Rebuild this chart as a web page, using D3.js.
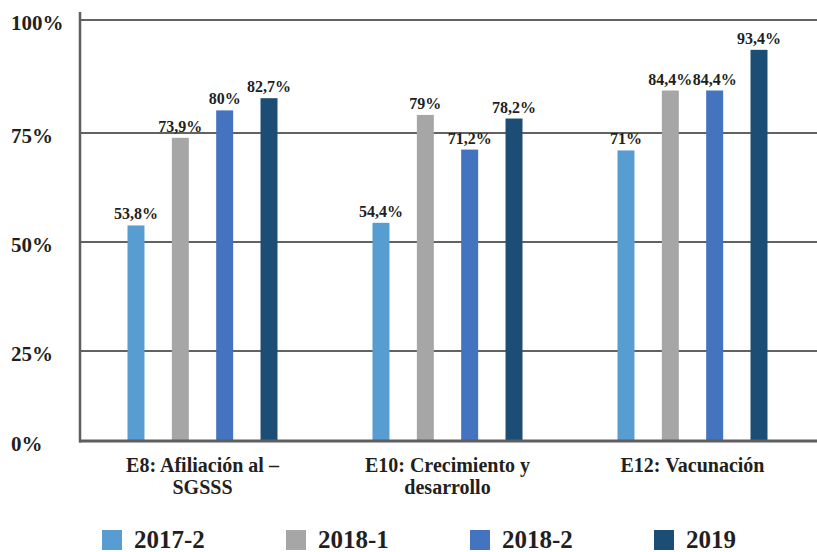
<!DOCTYPE html>
<html>
<head>
<meta charset="utf-8">
<script src="https://cdn.jsdelivr.net/npm/d3@7"></script>
<style>
    body { margin: 0; background: #fff; }
</style>
</head>
<body>
<svg class="chart"></svg>
<script>
// chart data
var categories = ["E8: Afiliación al –\nSGSSS", "E10: Crecimiento y\ndesarrollo", "E12: Vacunación"];
var series = ["2017-2", "2018-1", "2018-2", "2019"];
var values2017_2 = [53.8, 54.4, 71];
var values2018_1 = [73.9, 79, 84.4];
var values2018_2 = [80, 71.2, 84.4];
var values2019 = [82.7, 78.2, 93.4];
var tickValues = [0, 25, 50, 75, 100];
var tickLabels = ["0%", "25%", "50%", "75%", "100%"];
var colors = ["#579dd1", "#a6a6a6", "#4473c0", "#1c4e75"];

var width = 817,
    height = 552,
    axisX = 80,
    rightX = 817,
    allValues = [values2017_2, values2018_1, values2018_2, values2019],
    data = [],
    chart,
    x0,
    x1,
    y;

// the printed grid is not evenly spaced, so the scale follows its lines
y = d3.scaleLinear()
    .domain(tickValues)
    .range([441, 351, 242, 133, 20]);

x0 = d3.scaleBand()
    .domain(categories)
    .range([axisX, 815])
    .padding(0);

x1 = d3.scaleBand()
    .domain(series)
    .range([-75, 75])
    .paddingInner(0.617)
    .paddingOuter(0);

for (var s = 0; s < series.length; s++) {
    for (var c = 0; c < categories.length; c++) {
        data.push({
            cat   : categories[c],
            ser   : series[s],
            value : allValues[s][c],
            color : colors[s]
        });
    }
}

function serif(sel, size) {
    sel.attr("font-family", "Liberation Serif")
        .attr("font-weight", "bold")
        .style("font-size", size + "px")
        .attr("fill", "#231f20");
}

chart = d3.select(".chart")
    .attr("width", width)
    .attr("height", height);

// gridlines
chart.append("g")
    .selectAll("line")
    .data(tickValues.slice(1))
    .enter().append("line")
    .attr("x1", axisX)
    .attr("x2", rightX)
    .attr("y1", function(d) { return y(d); })
    .attr("y2", function(d) { return y(d); })
    .attr("stroke", "#626262")
    .attr("stroke-width", 2.2);

// tick labels, left aligned
chart.append("g")
    .selectAll("text")
    .data(tickValues)
    .enter().append("text")
    .attr("x", 11)
    .attr("y", function(d) { return y(d) + 10; })
    .call(serif, 21)
    .text(function(d, i) { return tickLabels[i]; });

// bars
chart.append("g")
    .selectAll("rect")
    .data(data)
    .enter().append("rect")
    .attr("x", function(d) { return x0(d.cat) + x0.bandwidth() / 2 + x1(d.ser); })
    .attr("y", function(d) { return y(d.value); })
    .attr("width", x1.bandwidth())
    .attr("height", function(d) { return y(0) - y(d.value); })
    .attr("fill", function(d) { return d.color; });

// value labels
chart.append("g")
    .selectAll("text")
    .data(data)
    .enter().append("text")
    .attr("x", function(d) { return x0(d.cat) + x0.bandwidth() / 2 + x1(d.ser) + x1.bandwidth() / 2; })
    .attr("y", function(d) { return y(d.value) - 6; })
    .attr("text-anchor", "middle")
    .call(serif, 16)
    .text(function(d) { return String(d.value).replace(".", ",") + "%"; });

// axes lines
chart.append("line")
    .attr("x1", axisX).attr("x2", axisX)
    .attr("y1", 12).attr("y2", y(0) + 1.5)
    .attr("stroke", "#5e5e5e")
    .attr("stroke-width", 2.5);

chart.append("line")
    .attr("x1", axisX - 1).attr("x2", rightX)
    .attr("y1", y(0)).attr("y2", y(0))
    .attr("stroke", "#5e5e5e")
    .attr("stroke-width", 3);

// category labels
var cat = chart.append("g")
    .selectAll("text")
    .data(categories)
    .enter().append("text")
    .attr("text-anchor", "middle")
    .call(serif, 20);

cat.selectAll("tspan")
    .data(function(d) { return d.split("\n").map(function(t) { return { text: t, cat: d }; }); })
    .enter().append("tspan")
    .attr("x", function(d) { return x0(d.cat) + x0.bandwidth() / 2; })
    .attr("y", function(d, i) { return 472 + i * 22; })
    .text(function(d) { return d.text; });

// legend
var legend = chart.append("g")
    .selectAll("g")
    .data(series)
    .enter().append("g")
    .attr("transform", function(d, i) { return "translate(" + (102 + i * 184) + ",530)"; });

legend.append("rect")
    .attr("width", 20)
    .attr("height", 20)
    .attr("fill", function(d, i) { return colors[i]; });

legend.append("text")
    .attr("x", 32)
    .attr("y", 18)
    .call(serif, 25)
    .text(function(d) { return d; });
</script>
</body>
</html>
